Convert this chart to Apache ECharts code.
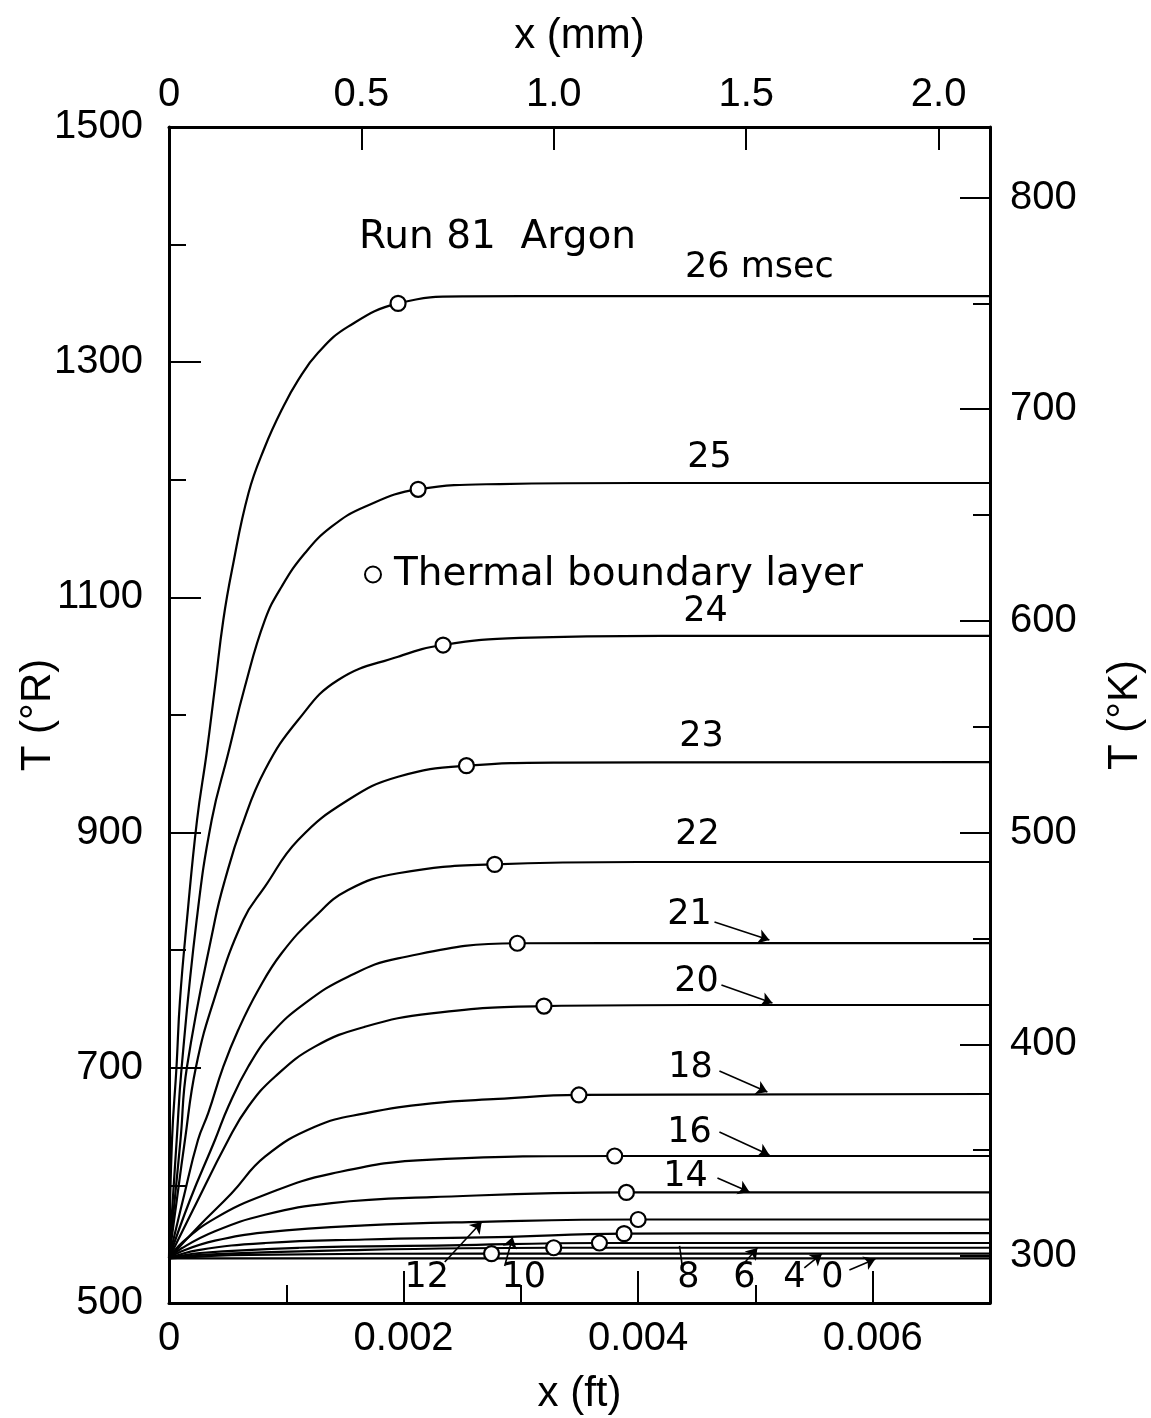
<!DOCTYPE html>
<html>
<head>
<meta charset="utf-8">
<script src="https://cdn.jsdelivr.net/npm/echarts@6/dist/echarts.min.js"></script>
<style>
  html, body { margin: 0; padding: 0; background: #fff; }
  #chart { width: 1151px; height: 1418px; }
</style>
</head>
<body>
<div id="chart"></div>
<script>
// Temperature profiles T(x) in the gas next to the wall, Run 81 (argon).
// x in feet, T in degrees Rankine. One array per time after shock arrival (msec).
const t26 = [[0,538],[0.0000256,638.6],[0.0000639,700.7],[0.0000937,757.6],[0.000153,825.7],[0.000239,910.7],[0.000321,967.7],[0.000392,1024],[0.000463,1080.8],[0.000537,1123.3],[0.000678,1188.8],[0.000818,1228.1],[0.00096,1259.3],[0.001101,1284.8],[0.001271,1308],[0.001527,1330.2],[0.001953,1350],[0.00252,1356],[0.0035,1356.2],[0.007,1356.2]];
const t25 = [[0,538],[0.0000656,638.6],[0.000108,700.7],[0.000236,825.7],[0.000364,910.7],[0.000505,967.4],[0.000647,1024],[0.000818,1080.8],[0.00096,1109.1],[0.001158,1137.5],[0.001386,1160.1],[0.00167,1177.1],[0.002124,1191.9],[0.00282,1196.4],[0.004,1197.3],[0.007,1197.3]];
const t24 = [[0,538],[0.000098,638.6],[0.000153,700.7],[0.000392,825.7],[0.000477,859.7],[0.000619,905],[0.000818,953.2],[0.001101,995.7],[0.001442,1029.8],[0.001953,1049.6],[0.002337,1059.5],[0.00299,1065.5],[0.0042,1067.2],[0.007,1067.2]];
const t23 = [[0,538],[0.000136,638.6],[0.00023,700.7],[0.000383,757.6],[0.000633,825.7],[0.000818,854],[0.001101,893.7],[0.001527,927.7],[0.001953,947.5],[0.002536,956.9],[0.00333,959.5],[0.007,960]];
const t22 = [[0,538],[0.000119,587.6],[0.000247,638.6],[0.000335,661.6],[0.000463,700.9],[0.00059,732.1],[0.000761,766.1],[0.00096,797.4],[0.001244,828.5],[0.001527,851.2],[0.001953,865.4],[0.002777,873],[0.004,875],[0.007,875]];
const t21 = [[0,538],[0.000179,587.6],[0.000392,638.6],[0.000505,666.9],[0.000675,700.9],[0.000875,729.3],[0.001158,754.8],[0.001527,777.5],[0.001953,793.1],[0.00297,805.9],[0.0045,806.1],[0.007,806.1]];
const t20 = [[0,538],[0.000204,579.1],[0.000505,638.6],[0.000675,666.9],[0.000903,692.4],[0.001244,718],[0.00167,734.9],[0.002238,746.3],[0.003197,752.5],[0.0045,753.4],[0.007,753.4]];
const t18 = [[0,538],[0.00025,564.9],[0.000534,593.3],[0.000818,624.4],[0.001244,649.9],[0.00167,661.3],[0.002238,669.8],[0.002805,673.5],[0.003495,676.9],[0.007,677.7]];
const t16 = [[0,538],[0.000108,551],[0.000392,572],[0.000818,592],[0.001386,610],[0.002238,622],[0.0038,625],[0.007,625]];
const t14 = [[0,538],[0.000108,546.5],[0.000392,561],[0.000818,575],[0.001386,585],[0.002238,590],[0.0039,594],[0.007,594]];
const t12 = [[0,538],[0.000108,544],[0.000392,553],[0.000818,560],[0.00167,566],[0.002664,569],[0.004,571],[0.007,571]];
const t10 = [[0,538],[0.00025,545],[0.000818,551],[0.00167,554],[0.002805,556],[0.00388,559],[0.007,559.5]];
const t8  = [[0,538],[0.000264,542.5],[0.00112,547],[0.00239,549],[0.00367,551],[0.007,551]];
const t6  = [[0,538],[0.000264,541],[0.00154,545],[0.00328,547],[0.007,547]];
const t4  = [[0,538],[0.00069,541],[0.00275,542],[0.007,542]];
const t0  = [[0,538],[0.007,538]];

const profiles = [t26, t25, t24, t23, t22, t21, t20, t18, t16, t14, t12, t10, t8, t6, t4, t0];
const times = ['26', '25', '24', '23', '22', '21', '20', '18', '16', '14', '12', '10', '8', '6', '4', '0'];

// Edge of the thermal boundary layer on each profile (x ft, T °R)
const boundaryLayer = [[0.001953,1350],[0.002124,1191.9],[0.002337,1059.5],[0.002536,956.9],[0.002777,873],[0.00297,805.9],[0.003197,752.5],[0.003495,676.9],[0.0038,625],[0.0039,594],[0.004,571],[0.00388,559],[0.00367,551],[0.00328,547],[0.00275,542]];

// Axis tick values
const ftLabels = [0, 0.002, 0.004, 0.006];
const ftMinor = [0.001, 0.003, 0.005];
const mmLabels = [0, 0.5, 1.0, 1.5, 2.0];
const rLabels = [500, 700, 900, 1100, 1300, 1500];
const rMinor = [600, 800, 1000, 1200, 1400];
const kLabels = [300, 400, 500, 600, 700, 800];
const kMinor = [350, 450, 550, 650, 750];

// Curve labels placed beside the profiles: [x ft, T °R, text]
const curveLabels = [
  [0.005034, 1380, '26 msec'], [0.004608, 1219, '25'], [0.004574, 1088, '24'],
  [0.00454, 981, '23'], [0.004506, 898, '22'], [0.004438, 830, '21'],
  [0.004497, 773, '20'], [0.004446, 700, '18'], [0.004438, 645, '16'],
  [0.004404, 607, '14'], [0.002198, 521, '12'], [0.003024, 521, '10'],
  [0.004429, 521, '8'], [0.004906, 521, '6'], [0.005332, 521, '4'], [0.005656, 521, '0']
];
// Leader lines from labels to curves: [from, to, curveness, arrowhead]
const leaders = [
  [[0.004651, 824], [0.005119, 808.7], 0.35, true],
  [[0.00471, 770.4], [0.005145, 755.1], 0.35, true],
  [[0.004693, 697.3], [0.005102, 679.4], 0.35, true],
  [[0.004693, 645.4], [0.005119, 625.8], 0.35, true],
  [[0.004676, 606.3], [0.004949, 594.4], 0.35, true],
  [[0.002351, 534.9], [0.002666, 568.9], 0, true],
  [[0.002862, 531.5], [0.00293, 556.1], 0.3, true],
  [[0.004378, 529.8], [0.004353, 548.5], 0.3, false],
  [[0.004838, 526.4], [0.005017, 546.8], 0.5, true],
  [[0.005417, 529.8], [0.005566, 541.7], 0.1, true],
  [[0.005801, 528.1], [0.006022, 537.4], 0, true]
];

const FT_TO_MM = 304.8;
const R_TO_K = 5 / 9;
const NUM_FONT = 'Liberation Sans';
const TEXT_FONT = 'DejaVu Sans';
const INK = '#000';

const chart = echarts.init(document.getElementById('chart'), null, { renderer: 'canvas' });

const lineSeries = profiles.map((d, i) => ({
  name: times[i] + ' msec',
  type: 'line',
  xAxisIndex: 0,
  yAxisIndex: 0,
  data: d,
  showSymbol: false,
  smooth: 0.45,
  lineStyle: { color: INK, width: 2.2 },
  silent: true,
  z: 3
}));

const leaderData = leaders.map(l => [
  { coord: l[0], symbol: 'none', lineStyle: { curveness: l[2] } },
  { coord: l[1], symbol: l[3] ? 'arrow' : 'none' }
]);

const tickText = { color: INK, fontFamily: NUM_FONT, fontSize: 40 };
const nameText = { color: INK, fontFamily: NUM_FONT, fontSize: 42 };
const lineBase = { onZero: false, lineStyle: { color: INK, width: 3 } };
const hiddenLine = { show: false, onZero: false };

const option = {
  animation: false,
  backgroundColor: '#fff',
  textStyle: { fontFamily: TEXT_FONT, color: INK },
  title: {
    text: 'Run 81  Argon',
    left: 354, top: 213,
    textStyle: { fontFamily: TEXT_FONT, fontSize: 39, fontWeight: 'normal', color: INK }
  },
  legend: {
    data: ['Thermal boundary layer'],
    left: 359, top: 550,
    itemWidth: 16, itemHeight: 16, itemGap: 10,
    textStyle: { fontFamily: TEXT_FONT, fontSize: 39, color: INK, padding: [0, 0, 0, 8] },
    selectedMode: false
  },
  grid: { left: 169, right: 161, top: 127, bottom: 115, outerBoundsMode: 'none', containLabel: false },
  xAxis: [
    {
      type: 'value', position: 'bottom', min: 0, max: 0.007,
      name: 'x (ft)', nameLocation: 'middle', nameGap: 70, nameTextStyle: nameText,
      axisLine: lineBase,
      axisTick: { inside: true, length: 32, customValues: ftLabels, lineStyle: { color: INK, width: 2 } },
      axisLabel: { ...tickText, margin: 16, customValues: ftLabels,
        formatter: v => (v === 0 ? '0' : v.toFixed(3)) },
      splitLine: { show: false }
    },
    {
      type: 'value', position: 'bottom', min: 0, max: 0.007,
      axisLine: hiddenLine,
      axisTick: { inside: true, length: 18, customValues: ftMinor, lineStyle: { color: INK, width: 2 } },
      axisLabel: { show: false },
      splitLine: { show: false }
    },
    {
      type: 'value', position: 'top', min: 0, max: 0.007 * FT_TO_MM,
      name: 'x (mm)', nameLocation: 'middle', nameGap: 70, nameTextStyle: nameText,
      axisLine: lineBase,
      axisTick: { inside: true, length: 23, customValues: mmLabels, lineStyle: { color: INK, width: 2 } },
      axisLabel: { ...tickText, margin: 12, customValues: mmLabels,
        formatter: v => (v === 0 ? '0' : v.toFixed(1)) },
      splitLine: { show: false }
    }
  ],
  yAxis: [
    {
      type: 'value', position: 'left', min: 500, max: 1500,
      name: 'T (°R)', nameLocation: 'middle', nameGap: 110, nameRotate: 90,
      nameMoveOverlap: false, nameTextStyle: nameText,
      axisLine: lineBase,
      axisTick: { inside: true, length: 32, customValues: rLabels, lineStyle: { color: INK, width: 2 } },
      axisLabel: { ...tickText, margin: 26, customValues: rLabels, formatter: v => String(v) },
      splitLine: { show: false }
    },
    {
      type: 'value', position: 'left', min: 500, max: 1500,
      axisLine: hiddenLine,
      axisTick: { inside: true, length: 17, customValues: rMinor, lineStyle: { color: INK, width: 2 } },
      axisLabel: { show: false },
      splitLine: { show: false }
    },
    {
      type: 'value', position: 'right', min: 500 * R_TO_K, max: 1500 * R_TO_K,
      name: 'T (°K)', nameLocation: 'middle', nameGap: 114, nameRotate: 90,
      nameMoveOverlap: false, nameTextStyle: nameText,
      axisLine: lineBase,
      axisTick: { inside: true, length: 30, customValues: kLabels, lineStyle: { color: INK, width: 2 } },
      axisLabel: { ...tickText, margin: 20, customValues: kLabels,
        formatter: v => String(Math.round(v)) },
      splitLine: { show: false }
    },
    {
      type: 'value', position: 'right', min: 500 * R_TO_K, max: 1500 * R_TO_K,
      axisLine: hiddenLine,
      axisTick: { inside: true, length: 17, customValues: kMinor, lineStyle: { color: INK, width: 2 } },
      axisLabel: { show: false },
      splitLine: { show: false }
    }
  ],
  series: [
    ...lineSeries,
    {
      name: 'Thermal boundary layer',
      type: 'scatter',
      xAxisIndex: 0, yAxisIndex: 0,
      data: boundaryLayer,
      symbol: 'circle',
      symbolSize: 15,
      itemStyle: { color: '#fff', borderColor: INK, borderWidth: 2.2, opacity: 1 },
      silent: true,
      z: 6
    },
    {
      name: 'curve labels',
      type: 'scatter',
      xAxisIndex: 0, yAxisIndex: 0,
      data: curveLabels,
      symbol: 'circle',
      symbolSize: 0,
      itemStyle: { color: INK, opacity: 1 },
      silent: true,
      z: 7,
      label: {
        show: true, position: [0, 0], align: 'center', verticalAlign: 'middle',
        formatter: p => p.value[2],
        fontFamily: TEXT_FONT, fontSize: 35, color: INK, opacity: 1
      },
      markLine: {
        silent: true,
        symbolSize: 11,
        lineStyle: { color: INK, width: 1.6, type: 'solid', opacity: 1 },
        label: { show: false },
        data: leaderData
      }
    }
  ]
};

chart.setOption(option);
</script>
</body>
</html>
